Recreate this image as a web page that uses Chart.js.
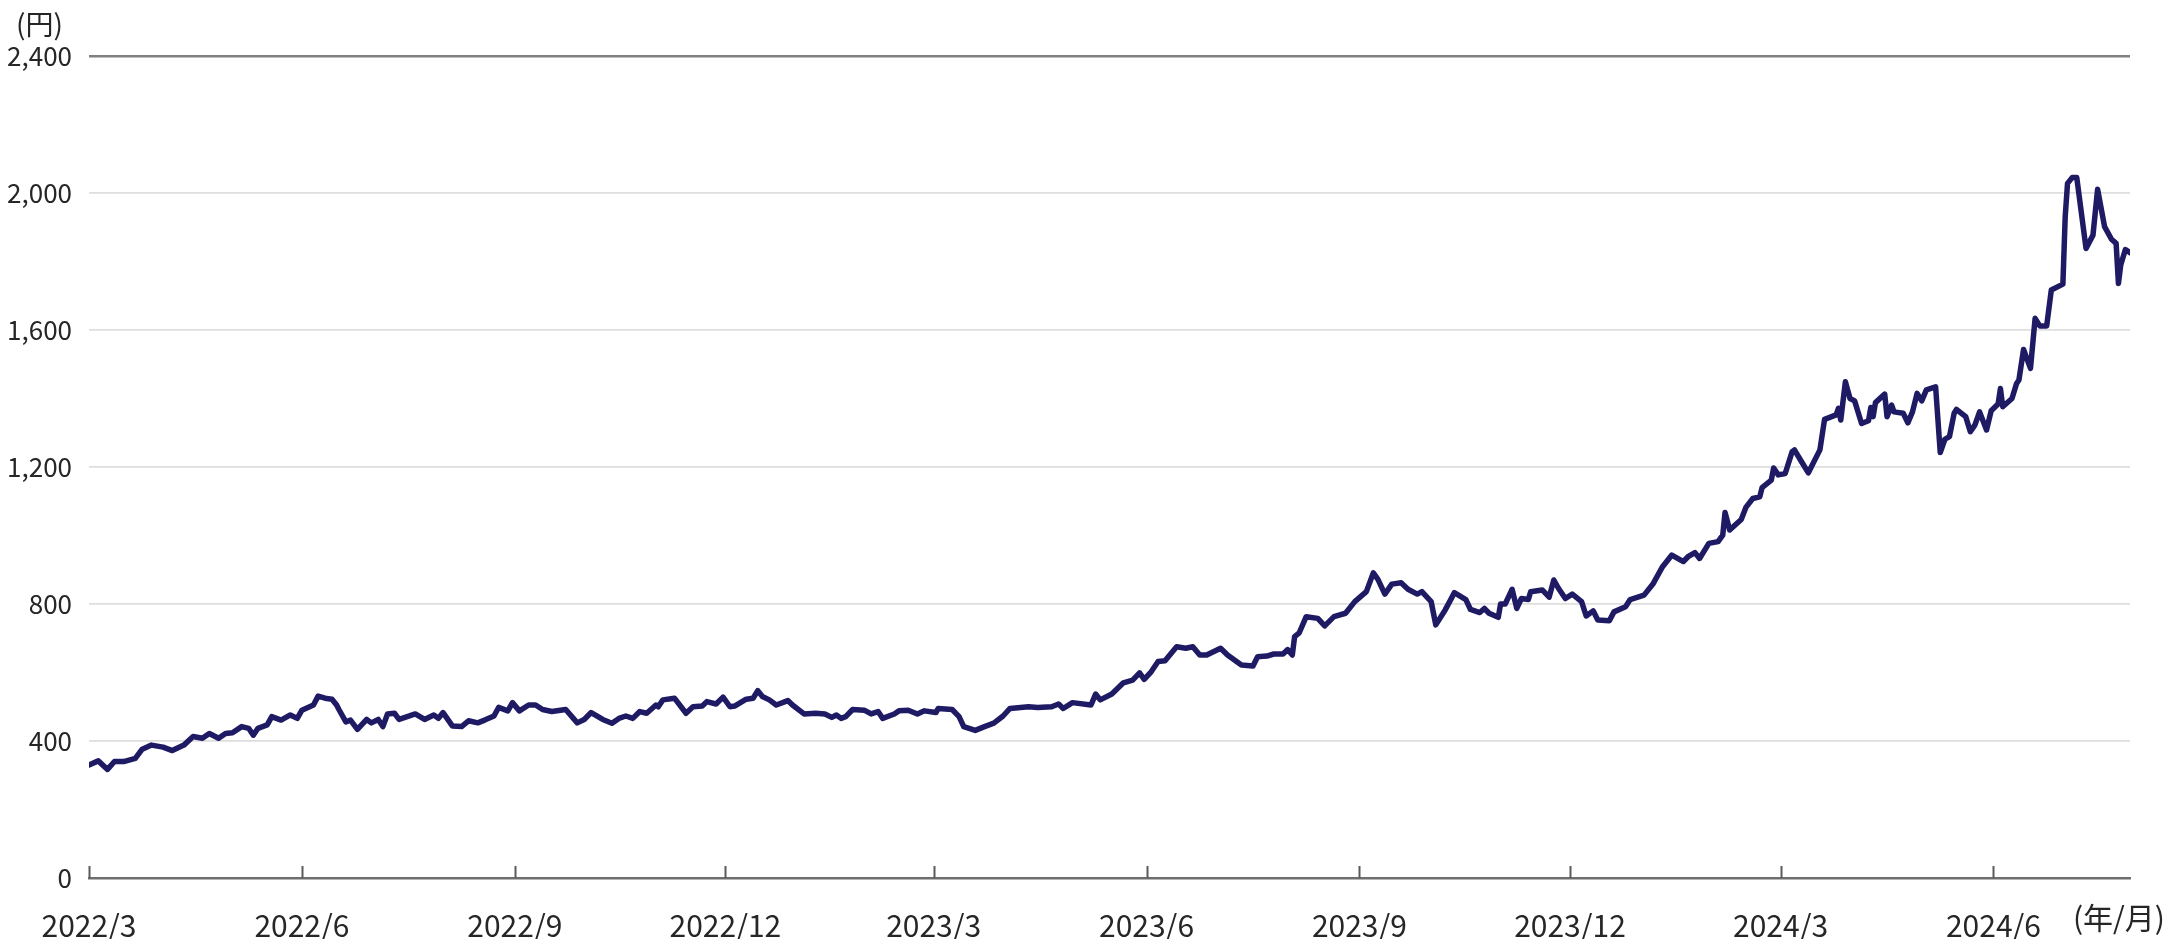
<!DOCTYPE html>
<html>
<head>
<meta charset="utf-8">
<script src="https://cdn.jsdelivr.net/npm/chart.js@4.4.1/dist/chart.umd.min.js"></script>
<style>
  html, body { margin: 0; padding: 0; background: #fff; }
  canvas { display: block; }
</style>
</head>
<body>
<canvas id="priceChart" width="2171" height="939"></canvas>
<script>
// days since 2022/3/1
const days = [
    0, 4, 8, 11, 15, 20, 23, 27, 32, 36, 41, 45, 49, 52, 56, 59, 62, 66, 69, 71, 73, 77, 79, 83, 87, 90,
    92, 97, 99, 102, 105, 107, 108, 111, 113, 116, 120, 122, 125, 127, 129, 132, 134, 141, 145, 149, 151, 153,
    157, 161, 164, 168, 171, 175, 177, 181, 183, 186, 190, 193, 196, 200, 206, 211, 214, 217, 222,
    226, 229, 232, 235, 238, 241, 245, 246, 248, 253, 258, 261, 265, 267, 271, 274, 277, 279, 284, 287, 289,
    291, 294, 297, 302, 304, 309, 314, 318, 321, 323, 325, 327, 330, 335, 338, 341, 343, 348, 350, 354, 358,
    361, 366, 367, 373, 376, 378, 383, 387, 391, 395, 398, 406, 410, 416, 419, 421, 425, 433, 435, 437, 442, 447,
    451, 454, 456, 459, 462, 465, 470, 474, 477, 480, 483, 489, 492, 498, 503, 505, 509, 512, 516, 518, 520,
    521, 523, 526, 531, 534, 538, 543, 547, 552, 555, 557, 560, 563, 567, 570, 574, 576, 580, 582, 586, 588,
    590, 595, 597, 601, 603, 605, 609, 610, 612, 615, 617, 619, 622, 623, 628, 631, 633, 635, 638, 641, 645,
    647, 650, 652, 657, 659, 664, 666, 672, 676,
    680, 684, 689, 691, 694, 696, 700, 704, 706, 707, 709, 714, 716, 719, 722, 723, 727, 728, 730, 733, 736,
    737, 740, 743, 748, 750, 755, 756, 757, 759, 761, 763, 766, 769, 770, 771, 772, 776, 777, 779, 780, 784,
    786, 788, 790, 792, 794, 798, 800, 802, 804, 806, 807, 811, 813, 815, 817, 820, 822, 825, 826, 827, 831,
    833, 834, 836, 839, 841, 843, 846, 848, 853, 854, 855, 857, 859, 863, 866, 868, 871, 874, 876, 877, 878,
    880, 882
];

// closing price (円)
const prices = [
    330, 342, 317, 340, 340, 349, 376, 388, 382, 372, 388, 413, 408, 422, 408, 422, 424, 442, 437, 417, 437, 447, 471, 461, 476, 466,
    490, 505, 531, 525, 522, 505, 492, 456, 461, 434, 463, 453, 463, 442, 479, 481, 463, 479, 463, 476, 466, 483,
    444, 442, 459, 453, 461, 473, 498, 488, 512, 488, 505, 505, 492, 486, 492, 453, 463, 483, 463,
    452, 466, 473, 466, 486, 481, 505, 500, 520, 525, 481, 500, 502, 515, 508, 528, 500, 502, 522, 525, 547,
    530, 520, 505, 518, 505, 479, 481, 479, 469, 476, 466, 471, 492, 490, 479, 486, 466, 479, 488, 490, 479,
    488, 483, 495, 492, 471, 442, 431, 442, 452, 473, 495, 500, 498, 500, 508, 495, 512, 505, 537, 520, 537, 570,
    578, 599, 580, 602, 632, 634, 675, 671, 675, 651, 651, 671, 651, 622, 619, 646, 648, 654, 654, 667, 651,
    705, 716, 763, 758, 736, 763, 773, 807, 836, 891, 872, 829, 858, 862, 843, 829, 836, 807, 739, 782, 807,
    833, 813, 784, 775, 787, 773, 761, 800, 800, 843, 787, 816, 813, 836, 841, 820, 870, 846, 816, 829, 807,
    765, 780, 753, 751, 777, 792, 813, 826, 860,
    909, 943, 924, 938, 950, 933, 977, 982, 1001, 1067, 1016, 1047, 1082, 1108, 1113, 1140, 1162, 1197, 1177, 1181, 1245,
    1250, 1216, 1183, 1250, 1339, 1352, 1371, 1337, 1449, 1400, 1393, 1327, 1335, 1374, 1347, 1388, 1413, 1347, 1381, 1361, 1357,
    1329, 1361, 1415, 1393, 1425, 1434, 1242, 1281, 1289, 1357, 1368, 1347, 1303, 1323, 1361, 1308, 1364, 1384, 1429, 1376, 1400,
    1444, 1454, 1543, 1488, 1634, 1612, 1612, 1717, 1734, 1931, 2028, 2045, 2045, 1838, 1877, 2011, 1902, 1865, 1853, 1736, 1790,
    1835, 1826
];

const tickDays = [0, 92, 184, 275, 365, 457, 549, 640, 731, 823];
const tickLabels = ['2022/3', '2022/6', '2022/9', '2022/12', '2023/3', '2023/6', '2023/9', '2023/12', '2024/3', '2024/6'];

const FONT = "'Noto Sans CJK JP', 'Noto Sans', sans-serif";
const textColor = '#262626';

// small inward tick marks on the x axis + unit captions
const decorations = {
    id: 'decorations',
    afterDatasetsDraw(chart) {
        const { ctx, chartArea, scales } = chart;
        ctx.save();
        ctx.strokeStyle = '#5a5a5a';
        ctx.lineWidth = 2;
        tickDays.forEach(d => {
            const px = Math.round(scales.x.getPixelForValue(d)) + 0.5;
            ctx.beginPath();
            ctx.moveTo(px, chartArea.bottom);
            ctx.lineTo(px, chartArea.bottom - 12);
            ctx.stroke();
        });
        ctx.fillStyle = textColor;
        ctx.textBaseline = 'middle';
        ctx.font = `28px ${FONT}`;
        ctx.textAlign = 'left';
        ctx.fillText('(円)', 16, 24);
        ctx.font = `30px ${FONT}`;
        ctx.textAlign = 'right';
        ctx.fillText('(年/月)', 2165, 918);
        ctx.restore();
    }
};

new Chart(document.getElementById('priceChart'), {
    type: 'line',
    data: {
        datasets: [{
            data: days.map((d, i) => ({ x: d, y: prices[i] })),
            borderColor: '#1e1b64',
            borderWidth: 5.5,
            borderJoinStyle: 'round',
            borderCapStyle: 'round',
            pointRadius: 0,
            tension: 0,
            fill: false
        }]
    },
    options: {
        responsive: false,
        devicePixelRatio: 1,
        animation: false,
        layout: { padding: { top: 56, right: 41, left: 0, bottom: 0 } },
        plugins: {
            legend: { display: false },
            tooltip: { enabled: false }
        },
        scales: {
            x: {
                type: 'linear',
                min: 0,
                max: 882,
                afterBuildTicks: (scale) => {
                    scale.ticks = tickDays.map(v => ({ value: v }));
                },
                afterFit: (scale) => { scale.height = 61; },
                ticks: {
                    autoSkip: false,
                    maxRotation: 0,
                    padding: 22,
                    color: textColor,
                    font: { family: FONT, size: 30 },
                    callback: (value) => tickLabels[tickDays.indexOf(value)]
                },
                grid: { display: false },
                border: { display: true, color: '#6e6e6e', width: 2.5 }
            },
            y: {
                min: 0,
                max: 2400,
                afterFit: (scale) => { scale.width = 89; },
                ticks: {
                    stepSize: 400,
                    padding: 17,
                    color: textColor,
                    font: { family: FONT, size: 26 },
                    callback: (value) => value.toLocaleString('en-US')
                },
                grid: {
                    drawTicks: false,
                    color: (c) => c.tick.value === 2400 ? '#808080' : (c.tick.value === 0 ? 'rgba(0,0,0,0)' : '#dedede'),
                    lineWidth: (c) => c.tick.value === 2400 ? 2.5 : 1.8
                },
                border: { display: false }
            }
        }
    },
    plugins: [decorations]
});
</script>
</body>
</html>
